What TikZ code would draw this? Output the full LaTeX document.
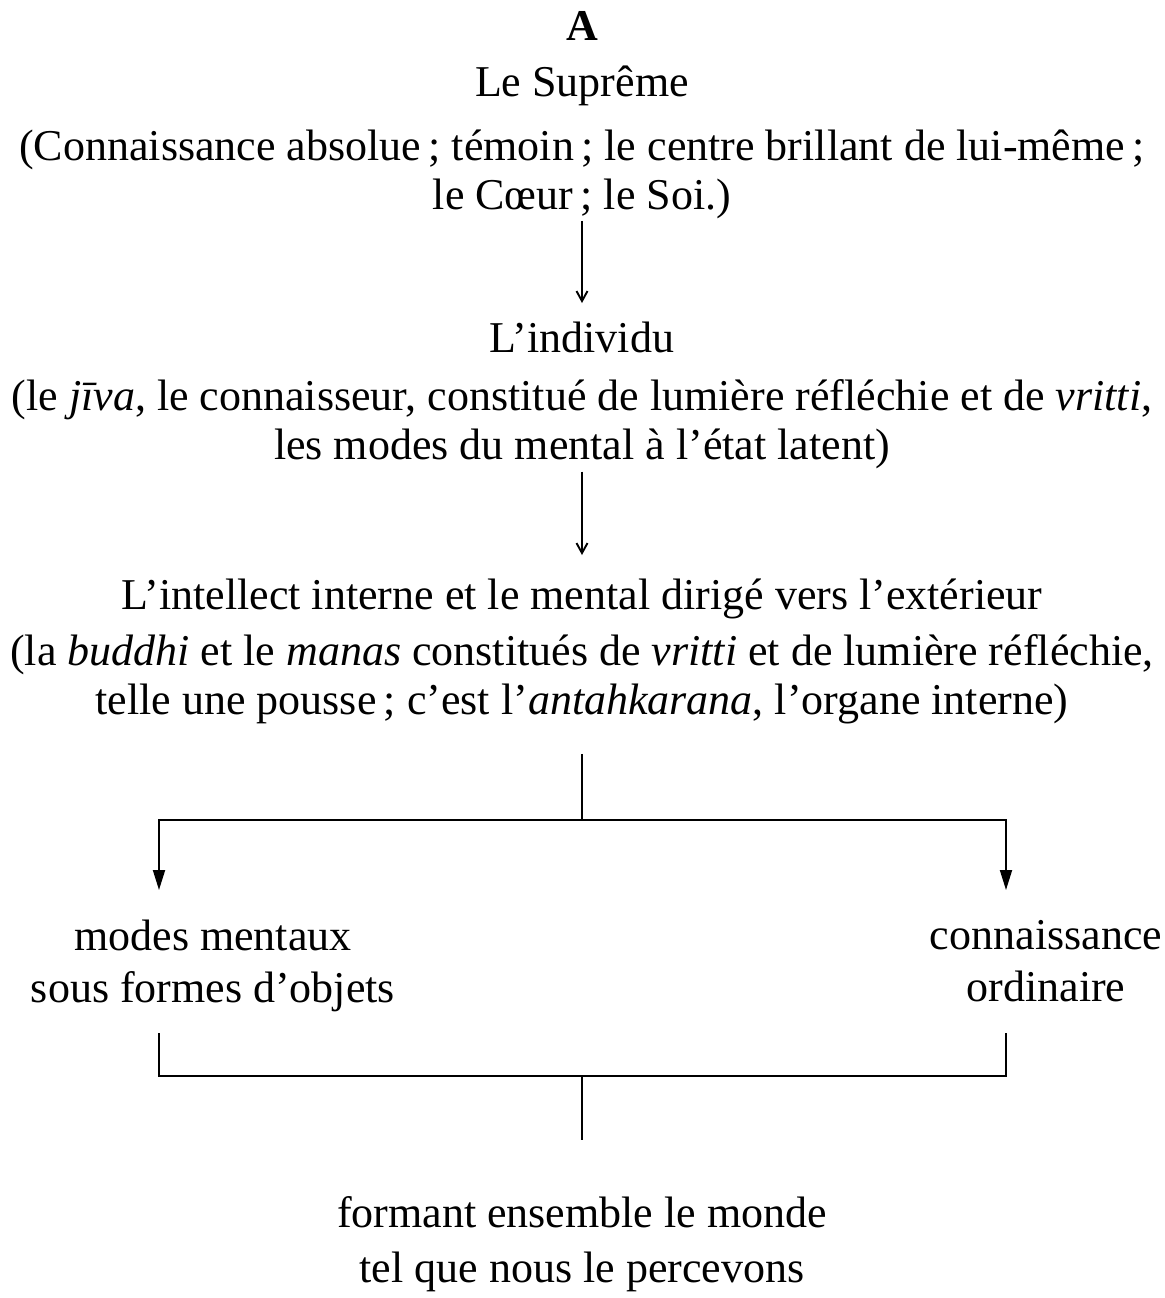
\documentclass[tikz,border=0pt]{standalone}
\usepackage{fontspec}
\setmainfont{Liberation Serif}
\usetikzlibrary{arrows.meta}
\begin{document}
\begin{tikzpicture}[x=0.5pt,y=-0.5pt,
  txt/.style={align=center,inner sep=0pt,anchor=north,font=\fontsize{22}{24.5}\selectfont},
  conn/.style={line width=0.95pt},
  openarrow/.style={conn,-{Straight Barb[length=5pt,width=5.5pt]}},
  fillarrow/.style={conn,-{Triangle[length=10pt,width=6pt]}}]
\useasboundingbox (0,0) rectangle (1164,1298);

\node[inner sep=0pt,anchor=base,font=\fontsize{22}{24.5}\selectfont\bfseries] (ttl) at (582,40) {A};

\node[txt] (b1) at (582,65) {Le Suprême\\[7.5pt]
(Connaissance absolue\,; témoin\,; le centre brillant de lui-même\,;\\
le Cœur\,; le Soi.)};

\node[txt] (b2) at (582,322) {L’individu\\[4.5pt]
(le \textit{jīva}, le connaisseur, constitué de lumière réfléchie et de \textit{vritti},\\
les modes du mental à l’état latent)};

\node[txt] (b3) at (582,578) {L’intellect interne et le mental dirigé vers l’extérieur\\[3.5pt]
(la \textit{buddhi} et le \textit{manas} constitués de \textit{vritti} et de lumière réfléchie,\\
telle une pousse\,; c’est l’\textit{antahkarana}, l’organe interne)};

\node[txt,font=\fontsize{22}{26}\selectfont] (lft) at (213,920) {modes mentaux\\sous formes d’objets};
\node[txt,font=\fontsize{22}{26}\selectfont] (rgt) at (1046,920) {connaissance\\ordinaire};

\node[txt,font=\fontsize{22}{27.5}\selectfont] (bot) at (582,1196) {formant ensemble le monde\\tel que nous le percevons};

\coordinate (split) at (582,820);
\coordinate (ltip) at (159,890);
\coordinate (rtip) at (1006,890);
\coordinate (ltop) at (159,1033);
\coordinate (rtop) at (1006,1033);
\coordinate (merge) at (582,1076);

\draw[openarrow,shorten <=1pt,shorten >=9.5pt] (b1) -- (b2);
\draw[openarrow,shorten <=1pt,shorten >=11.5pt] (b2) -- (b3);
\draw[conn,shorten <=15pt] (b3) -- (split);
\draw[fillarrow] (split) -| (ltip);
\draw[fillarrow] (split) -| (rtip);
\draw[conn] (ltop) |- (merge) -| (rtop);
\draw[conn,shorten >=28pt] (merge) -- (bot);
\end{tikzpicture}
\end{document}
